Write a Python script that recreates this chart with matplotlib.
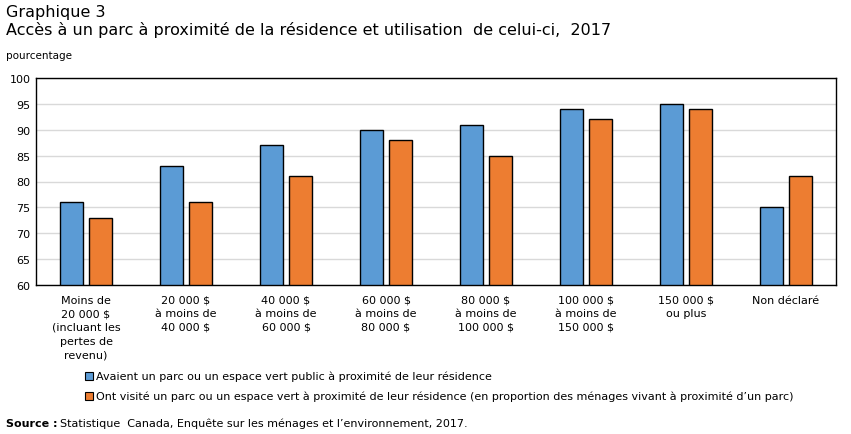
import matplotlib
matplotlib.use("Agg")
import matplotlib.pyplot as plt
import numpy as np
from matplotlib.patches import Rectangle

categories = ["Moins de\n20 000 $\n(incluant les\npertes de\nrevenu)",
              "20 000 $\nà moins de\n40 000 $",
              "40 000 $\nà moins de\n60 000 $",
              "60 000 $\nà moins de\n80 000 $",
              "80 000 $\nà moins de\n100 000 $",
              "100 000 $\nà moins de\n150 000 $",
              "150 000 $\nou plus",
              "Non déclaré"]
avaient = [76, 83, 87, 90, 91, 94, 95, 75]
visite = [73, 76, 81, 88, 85, 92, 94, 81]
yticks = [60, 65, 70, 75, 80, 85, 90, 95, 100]
series_names = ["Avaient un parc ou un espace vert public à proximité de leur résidence",
                "Ont visité un parc ou un espace vert à proximité de leur résidence (en proportion des ménages vivant à proximité d’un parc)"]
blue = "#5b9bd5"
orange = "#ed7d31"

plt.rcParams['font.family'] = ['DejaVu Sans']
fig = plt.figure(figsize=(8.51, 4.35), dpi=100)
W, H = 851, 435
ax = fig.add_axes([36 / W, 1 - 286 / H, 800 / W, 207 / H])

x = np.arange(len(categories))
bw = 0.23
ax.bar(x - 0.145, [v - 60 for v in avaient], bw, bottom=60, color=blue, edgecolor="black", linewidth=1, zorder=3)
ax.bar(x + 0.145, [v - 60 for v in visite], bw, bottom=60, color=orange, edgecolor="black", linewidth=1, zorder=3)

ax.set_xlim(-0.5, len(categories) - 0.5)
ax.set_ylim(60, 100)
ax.set_yticks(yticks)
ax.set_yticklabels([str(t) for t in yticks], fontsize=8)
ax.set_xticks(x)
ax.set_xticklabels(categories, fontsize=8, linespacing=1.45, va="top")
ax.tick_params(axis="x", length=0, pad=7)
ax.tick_params(axis="y", length=0, pad=4)
ax.grid(axis="y", color="#d9d9d9", linewidth=1, zorder=0)
for s in ax.spines.values():
    s.set_color("black")
    s.set_linewidth(1)

fig.text(6 / W, 1 - 12 / H, "Graphique 3", fontsize=11.5, va="center")
fig.text(6 / W, 1 - 30 / H, "Accès à un parc à proximité de la résidence et utilisation  de celui-ci,  2017", fontsize=11.5, va="center")
fig.text(6 / W, 1 - 56 / H, "pourcentage", fontsize=7.5, va="center")

for i, (name, col) in enumerate(zip(series_names, [blue, orange])):
    yc = 377 + 20 * i
    fig.patches.append(Rectangle((85 / W, 1 - (yc + 4) / H), 8 / W, 8 / H, transform=fig.transFigure,
                                 facecolor=col, edgecolor="black", linewidth=0.8))
    fig.text(96 / W, 1 - yc / H, name, fontsize=8, va="center")

fig.text(6 / W, 1 - 424 / H, "Source :", fontsize=8, fontweight="bold", va="center")
fig.text(60 / W, 1 - 424 / H, "Statistique  Canada, Enquête sur les ménages et l’environnement, 2017.", fontsize=8, va="center")

fig.savefig("out.png", dpi=100)
